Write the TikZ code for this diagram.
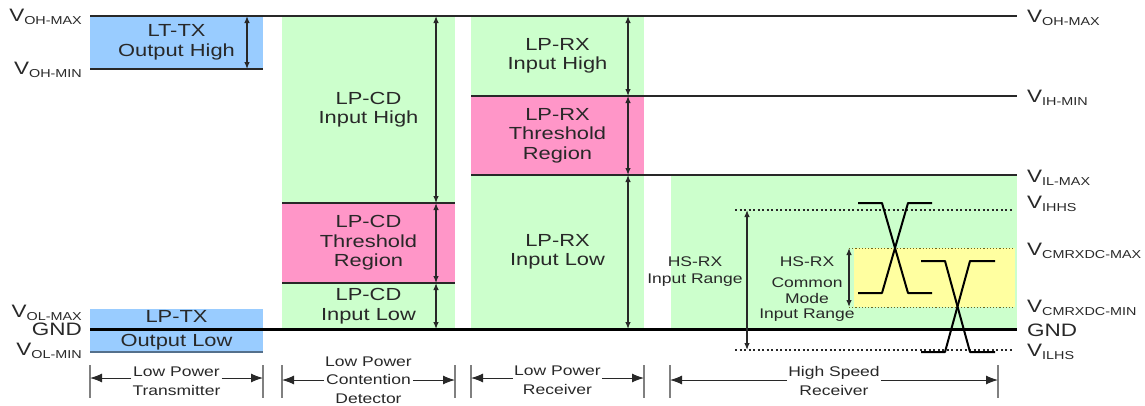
\documentclass[tikz,border=0pt]{standalone}
\usepackage{fontspec}
\setmainfont{Liberation Sans}[FakeStretch=1.25]
\usetikzlibrary{arrows.meta,positioning}
\definecolor{txblue}{RGB}{153,204,255}
\definecolor{lpgreen}{RGB}{204,255,204}
\definecolor{thpink}{RGB}{255,150,200}
\definecolor{cmyellow}{RGB}{255,255,160}
\definecolor{ink}{RGB}{40,40,40}
\tikzstyle{region}=[inner sep=0pt, outer sep=0pt, minimum width=173pt,
  text=ink, align=center, font=\fontsize{17.5}{19.5}\selectfont]
\tikzstyle{lvline}=[ink, line width=1.2pt]
\tikzstyle{gnd}=[black, line width=3pt]
\tikzstyle{span}=[{Latex[length=7pt,width=5.5pt]}-{Latex[length=7pt,width=5.5pt]},
  ink, line width=1.2pt]
\tikzstyle{dotline}=[ink, dash pattern=on 2pt off 2.5pt, line width=1.2pt]
\tikzstyle{cmdots}=[olive!70!black, dash pattern=on 1.2pt off 2pt, line width=1pt]
\tikzstyle{wave}=[black, line width=2pt, line join=round]
\tikzstyle{volt}=[text=ink, inner sep=0pt, font=\fontsize{18}{20}\selectfont]
\tikzstyle{dimtext}=[text=ink, align=center, inner sep=1pt,
  font=\fontsize{14}{18.5}\selectfont]
\tikzstyle{hstext}=[text=ink, align=center, font=\fontsize{14}{15.5}\selectfont]
\tikzstyle{tickline}=[gray, line width=1.3pt]
\tikzstyle{dimarrow}=[-{Latex[length=12pt,width=9pt]}, ink, line width=1pt]
\newcommand{\Vlvl}[1]{V\raisebox{-.35ex}{\fontsize{11.5}{11.5}\selectfont #1}}

\begin{document}
\begin{tikzpicture}[x=1pt, y=-1pt]
  \useasboundingbox (0,0) rectangle (1145,405);

  % transmitter
  \node[region, fill=txblue, minimum height=53pt, anchor=north] (txhigh)
    at (176.5,16) {LT-TX\\Output High};
  \node[region, fill=txblue, minimum height=43pt, anchor=north] (txlow)
    at (176.5,309) {LP-TX\\[5pt]Output Low};

  % contention detector
  \node[region, fill=lpgreen, minimum height=187pt, anchor=north] (cdhigh)
    at (368.5,16) {LP-CD\\Input High};
  \node[region, fill=thpink, minimum height=80pt, below=0pt of cdhigh] (cdth)
    {LP-CD\\Threshold\\Region};
  \node[region, fill=lpgreen, minimum height=46pt, below=0pt of cdth] (cdlow)
    {LP-CD\\Input Low};

  % receiver
  \node[region, fill=lpgreen, minimum height=80pt, anchor=north] (rxhigh)
    at (557.5,16) {LP-RX\\Input High};
  \node[region, fill=thpink, minimum height=79pt, below=0pt of rxhigh] (rxth)
    {LP-RX\\Threshold\\Region};
  \node[region, fill=lpgreen, minimum height=154pt, below=0pt of rxth] (rxlow)
    {LP-RX\\Input Low};

  % high speed receiver
  \fill[lpgreen] (671,175) rectangle (1017,329);
  \fill[cmyellow] (854,248) rectangle (1015,307);

  \draw[lvline] (txhigh.north west) -- (1017,16);
  \draw[lvline] (txhigh.south west) -- (txhigh.south east);
  \draw[lvline] (cdth.north west) -- (cdth.north east)
    (cdth.south west) -- (cdth.south east);
  \draw[lvline] (rxth.north west) -- (1017,96) (rxth.south west) -- (1017,175);
  \draw[txblue!55!black, line width=1.2pt] (txlow.south west) -- (txlow.south east);
  \draw[gnd] (90,329) -- (1017,329);

  \coordinate (ihhs) at (735,210);
  \coordinate (ilhs) at (735,350);
  \coordinate (cmmax) at (849,248);
  \coordinate (cmmin) at (849,307);
  \draw[dotline] (ihhs) -- (1012,210) (ilhs) -- (1012,350);
  \draw[cmdots] (cmmax) -- (1015,248) (cmmin) -- (1015,307);

  \draw[span] ([xshift=-16pt]txhigh.north east) -- ([xshift=-16pt]txhigh.south east);
  \foreach \n in {cdhigh,cdth,cdlow}
    \draw[span] ([xshift=-19pt]\n.north east) -- ([xshift=-19pt]\n.south east);
  \foreach \n in {rxhigh,rxth,rxlow}
    \draw[span] ([xshift=-16pt]\n.north east) -- ([xshift=-16pt]\n.south east);
  \draw[span] ([xshift=12pt]ihhs) -- ([xshift=12pt]ilhs);
  \draw[span] (cmmax) -- (cmmin);

  \node[hstext] (hsin) at (695,271.5) {HS-RX\\[1pt]Input Range};
  \node[hstext] (hscm) at (807,289) {HS-RX\\[6pt]Common\\Mode\\Input Range};

  \draw[wave] (858,203) -- (882,203) -- (908,293) -- (932,293);
  \draw[wave] (858,293) -- (882,293) -- (908,203) -- (932,203);
  \draw[wave] (921,261) -- (945,261) -- (970,352) -- (995,352);
  \draw[wave] (921,352) -- (945,352) -- (970,261) -- (995,261);

  % level names
  \node[volt, anchor=base east] (lohmax) at (82,21.5) {\Vlvl{OH-MAX}};
  \node[volt, anchor=base east] (lohmin) at (82,74) {\Vlvl{OH-MIN}};
  \node[volt, anchor=base east] (lolmax) at (82,317.5) {\Vlvl{OL-MAX}};
  \node[volt, anchor=base east] (lgnd) at (82,335.5) {GND};
  \node[volt, anchor=base east] (lolmin) at (82,355) {\Vlvl{OL-MIN}};

  \node[volt, anchor=base west] (rohmax) at (1027,22.5) {\Vlvl{OH-MAX}};
  \node[volt, anchor=base west] (rihmin) at (1027,102.5) {\Vlvl{IH-MIN}};
  \node[volt, anchor=base west] (rilmax) at (1027,182.5) {\Vlvl{IL-MAX}};
  \node[volt, anchor=base west] (rihhs) at (1027,208.5) {\Vlvl{IHHS}};
  \node[volt, anchor=base west] (rcmmax) at (1027,255.5) {\Vlvl{CMRXDC-MAX}};
  \node[volt, anchor=base west] (rcmmin) at (1027,312.5) {\Vlvl{CMRXDC-MIN}};
  \node[volt, anchor=base west] (rgnd) at (1027,336) {GND};
  \node[volt, anchor=base west] (rilhs) at (1027,356.5) {\Vlvl{ILHS}};

  % blocks
  \foreach \x in {90,263,282,455,471,644,670,998}
    \draw[tickline] (\x,365) -- (\x,398);
  \coordinate (txl) at (90,378);  \coordinate (txr) at (263,378);
  \coordinate (cdl) at (282,380); \coordinate (cdr) at (455,380);
  \coordinate (rxl) at (471,378); \coordinate (rxr) at (644,378);
  \coordinate (hsl) at (670,380); \coordinate (hsr) at (998,380);
  \node[dimtext] (txdim) at (176.5,381) {Low Power\\Transmitter};
  \node[dimtext] (cddim) at (368.5,380) {Low Power\\Contention\\Detector};
  \node[dimtext] (rxdim) at (557.5,380) {Low Power\\Receiver};
  \node[dimtext] (hsdim) at (834,381) {High Speed\\Receiver};
  \draw[dimarrow] (txdim.west |- txl) -- (txl);
  \draw[dimarrow] (txdim.east |- txr) -- (txr);
  \draw[dimarrow] (cddim.west |- cdl) -- (cdl);
  \draw[dimarrow] (cddim.east |- cdr) -- (cdr);
  \draw[dimarrow] (rxdim.west |- rxl) -- (rxl);
  \draw[dimarrow] (rxdim.east |- rxr) -- (rxr);
  \draw[dimarrow] (hsdim.west |- hsl) -- (hsl);
  \draw[dimarrow] (hsdim.east |- hsr) -- (hsr);

\end{tikzpicture}
\end{document}
